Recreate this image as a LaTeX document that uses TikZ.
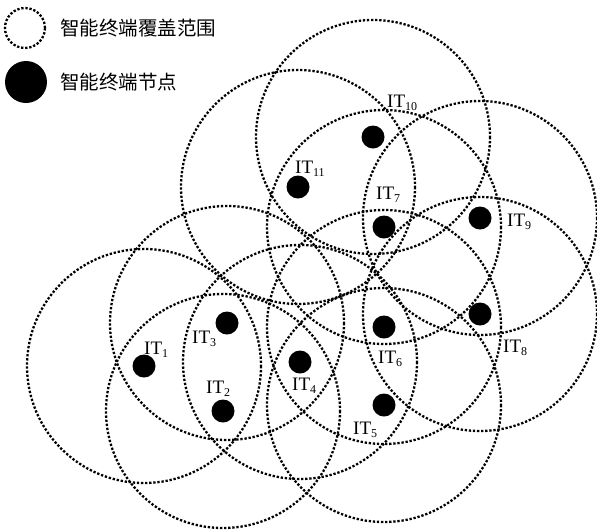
\documentclass[tikz,border=0pt]{standalone}
\usepackage{fontspec}
\setmainfont{Liberation Serif}
\newfontfamily\cjk{Noto Sans CJK SC}
\newcommand\itsub[1]{IT\raisebox{-3.3pt}{\fontsize{12}{12}\selectfont #1}}
\begin{document}
\begin{tikzpicture}[x=1pt,y=-1pt,
  cover/.style={draw, line width=2.3pt, dash pattern=on 2.3pt off 1.8pt},
  term/.style={circle, fill=black, minimum size=23pt, inner sep=0pt},
  lab/.style={inner sep=0pt, anchor=base west, font=\fontsize{19}{19}\selectfont},
  leg/.style={inner sep=0pt, anchor=west, font=\cjk\fontsize{19.5}{20}\selectfont}]
\useasboundingbox (0,0) rectangle (597,531);
% legend
\node[cover, circle, minimum size=40pt, inner sep=0pt] (lc) at (25,28) {};
\node[leg] (lt1) at (60,28) {智能终端覆盖范围};
\node[circle, fill=black, minimum size=42pt, inner sep=0pt] (ld) at (26,82) {};
\node[leg] (lt2) at (60,82) {智能终端节点};
% terminals
\node[term] (n1) at (144,366) {};
\node[term] (n2) at (223,411) {};
\node[term] (n3) at (227,323) {};
\node[term] (n4) at (300,362) {};
\node[term] (n5) at (384,405) {};
\node[term] (n6) at (384,327) {};
\node[term] (n7) at (384,227) {};
\node[term] (n8) at (480,314) {};
\node[term] (n9) at (480,218) {};
\node[term] (n10) at (373,137) {};
\node[term] (n11) at (298,187) {};
% coverage circles
\foreach \n in {1,...,11}{
  \draw[cover] (n\n.center) circle[radius=117];
}
% labels
\node[lab] (l1) at (144,354) {\itsub{1}};
\node[lab] (l2) at (206,393) {\itsub{2}};
\node[lab] (l3) at (192,343) {\itsub{3}};
\node[lab] (l4) at (292,390) {\itsub{4}};
\node[lab] (l5) at (353,434) {\itsub{5}};
\node[lab] (l6) at (378,363) {\itsub{6}};
\node[lab] (l7) at (376,199) {\itsub{7}};
\node[lab] (l8) at (503,352) {\itsub{8}};
\node[lab] (l9) at (507,226) {\itsub{9}};
\node[lab] (l10) at (387,107) {\itsub{10}};
\node[lab] (l11) at (295,173) {\itsub{11}};
\end{tikzpicture}
\end{document}
